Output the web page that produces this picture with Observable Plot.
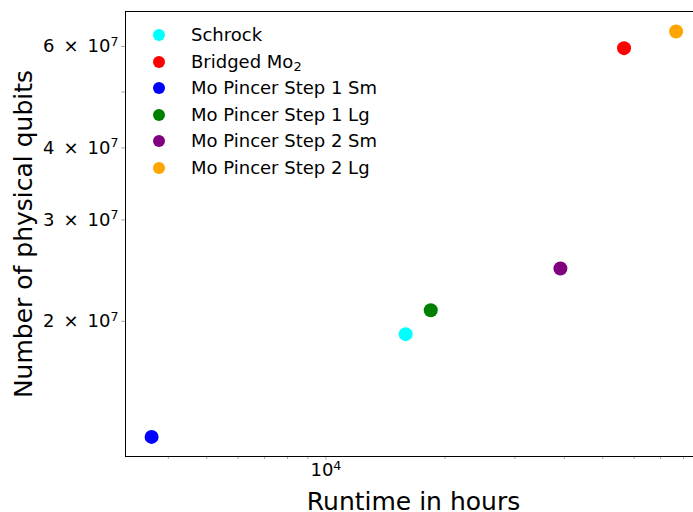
<!DOCTYPE html>
<html>
<head>
<meta charset="utf-8">
<script src="https://cdn.jsdelivr.net/npm/d3@7"></script>
<script src="https://cdn.jsdelivr.net/npm/@observablehq/plot@0.6"></script>
<style>
  body { margin: 0; background: #fff; font-family: "DejaVu Sans", sans-serif; }
  #wrap { position: relative; width: 693px; height: 512px; overflow: hidden; background: #fff; }
  #legend { position: absolute; left: 0; top: 0; }
  .row { position: absolute; height: 22px; line-height: 22px; font-size: 18px; white-space: nowrap; color: #000; }
  .mk { position: absolute; width: 12px; height: 12px; border-radius: 50%; top: 5px; }
  .lb { position: absolute; left: 38px; top: 0; }
  .sub { font-size: 72%; position: relative; top: 0.3em; }
</style>
</head>
<body>
<div id="wrap"><div id="legend"></div></div>
<script>
// ---- data ----
const names = ["Schrock", "Bridged Mo_2", "Mo Pincer Step 1 Sm", "Mo Pincer Step 1 Lg", "Mo Pincer Step 2 Sm", "Mo Pincer Step 2 Lg"];
const colors = ["cyan", "red", "blue", "green", "purple", "orange"];
const runtimeHours = [15900, 56600, 3630, 18400, 39100, 76600];
const physicalQubits = [1.90e7, 5.96e7, 1.26e7, 2.09e7, 2.47e7, 6.37e7];

const xDomain = [3119, 88800];
const yDomain = [1.165e7, 6.9e7];
const xMajorTicks = [1e4];
const xMinorTicks = [4000, 5000, 6000, 7000, 8000, 9000, 20000, 30000, 40000, 50000, 60000, 70000, 80000];
const yTicks = [2e7, 3e7, 4e7, 5e7, 6e7];
const yTickLabels = ["2\u2002×\u200210^7", "3\u2002×\u200210^7", "4\u2002×\u200210^7", "", "6\u2002×\u200210^7"];
const xTickLabels = ["10^4"];
const xLabel = "Runtime in hours";
const yLabel = "Number of physical qubits";

const points = names.map((n, i) => ({name: n, color: colors[i], x: runtimeHours[i], y: physicalQubits[i]}));

const chart = Plot.plot({
  width: 693,
  height: 512,
  marginLeft: 125,
  marginRight: -8,
  marginTop: 11,
  marginBottom: 56,
  x: {type: "log", domain: xDomain},
  y: {type: "log", domain: yDomain},
  color: {type: "identity"},
  style: {fontFamily: "DejaVu Sans, sans-serif", fontSize: "18px", background: "white", color: "black", overflow: "hidden"},
  marks: [
    Plot.axisX(xMinorTicks, {tickSize: 3, tickPadding: 2, tickFormat: () => "", stroke: "#aaa", label: null}),
    Plot.axisX(xMajorTicks, {tickSize: 4, tickPadding: 3, tickFormat: (d) => xTickLabels[xMajorTicks.indexOf(d)], stroke: "#aaa", fill: "black", label: null, fontSize: 18}),
    Plot.axisY(yTicks, {tickSize: 4, tickPadding: 3, tickFormat: (d) => yTickLabels[yTicks.indexOf(d)], stroke: "#aaa", fill: "black", label: null, fontSize: 18}),
    Plot.frame({stroke: "black", strokeWidth: 1}),
    Plot.dot(points, {x: "x", y: "y", fill: "color", r: 7, stroke: "none"}),
    Plot.text([xLabel], {text: d => d, frameAnchor: "bottom", lineAnchor: "middle", dy: 45, fontSize: 25, fill: "black"}),
    Plot.text([yLabel], {text: d => d, frameAnchor: "left", textAnchor: "middle", lineAnchor: "middle", rotate: -90, dx: -102, fontSize: 25, fill: "black"})
  ]
});

// tick label size and superscripts for labels written as "base^exp"
chart.querySelectorAll('g[aria-label$="tick label"]').forEach(g => { g.style.fontSize = "18px"; });
chart.querySelectorAll("text").forEach(t => {
  const s = t.textContent;
  if (s.includes("^")) {
    t.style.fontSize = "18px";
    const [base, exp] = s.split("^");
    const target = t.querySelector("tspan") || t;
    target.textContent = base;
    const sup = document.createElementNS("http://www.w3.org/2000/svg", "tspan");
    sup.style.fontSize = "12.6px";
    sup.setAttribute("dy", "-0.5em");
    sup.textContent = exp;
    target.appendChild(sup);
  }
});
document.getElementById("wrap").prepend(chart);

// ---- legend ----
const legend = document.getElementById("legend");
names.forEach((n, i) => {
  const row = document.createElement("div");
  row.className = "row";
  row.style.left = "153px";
  row.style.top = (24 + i * 26.6) + "px";
  const mk = document.createElement("span");
  mk.className = "mk";
  mk.style.background = colors[i];
  const lb = document.createElement("span");
  lb.className = "lb";
  const parts = n.split("_");
  lb.appendChild(document.createTextNode(parts[0]));
  if (parts.length > 1) {
    const sb = document.createElement("span");
    sb.className = "sub";
    sb.textContent = parts[1];
    lb.appendChild(sb);
  }
  row.appendChild(mk);
  row.appendChild(lb);
  legend.appendChild(row);
});
</script>
</body>
</html>
